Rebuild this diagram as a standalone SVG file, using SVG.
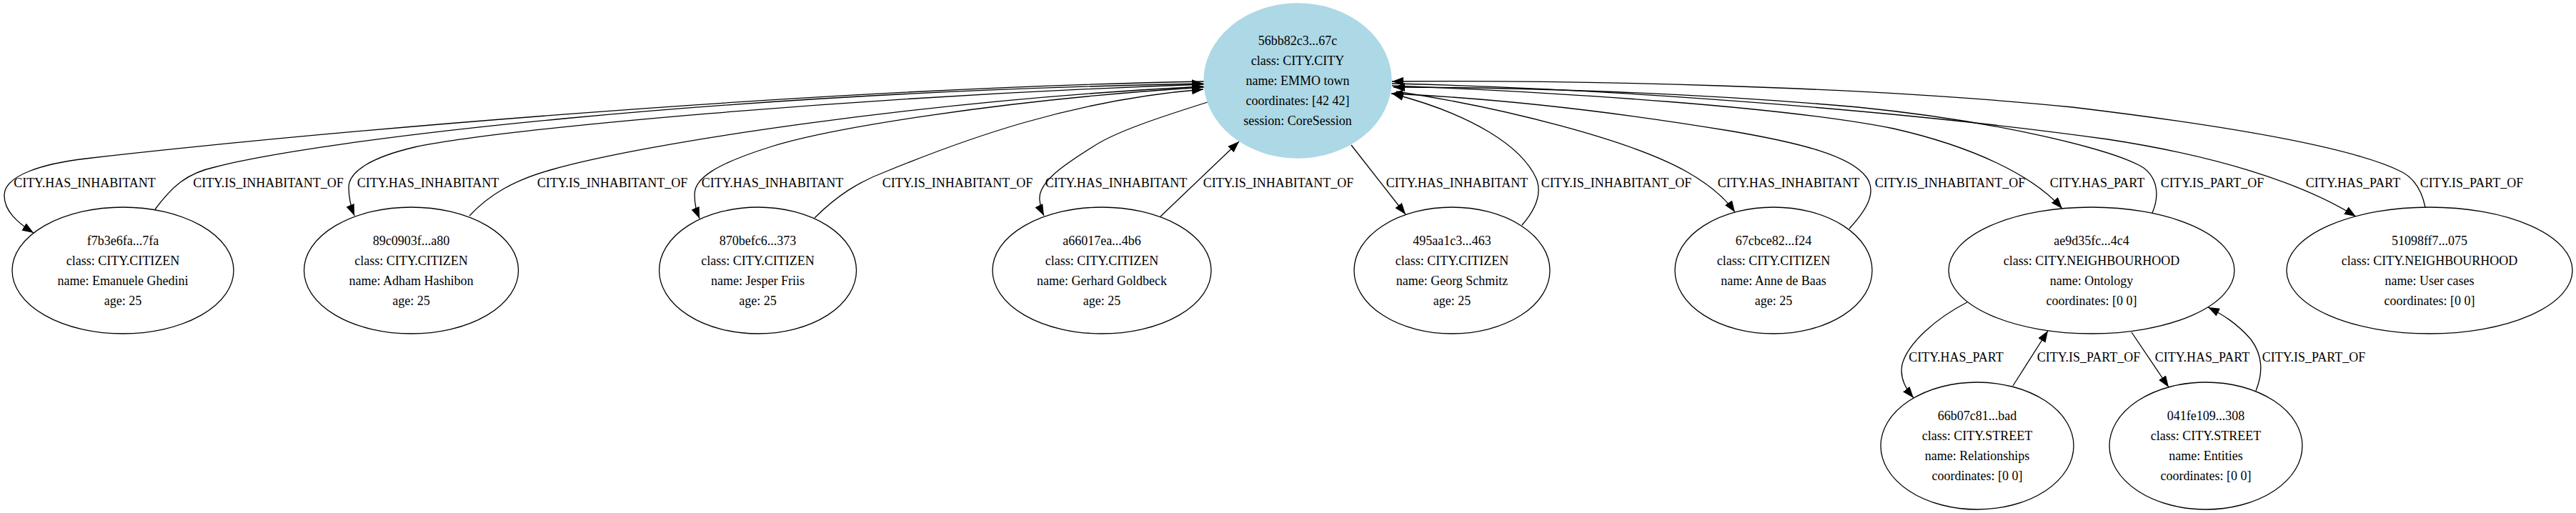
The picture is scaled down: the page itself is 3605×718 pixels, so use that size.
<svg xmlns="http://www.w3.org/2000/svg" width="3605" height="718" viewBox="0 0 3605 718">
<style>
.n{fill:#fff;stroke:#000;stroke-width:1.3}
.c{fill:#ADD8E6;stroke:#ADD8E6;stroke-width:1.3}
text{font-family:"Liberation Serif","Times New Roman",serif;font-size:18px;fill:#000;text-anchor:middle}
.e{fill:none;stroke:#000;stroke-width:1.3;marker-end:url(#ah)}
</style>
<defs>
<marker id="ah" viewBox="0 0 16 12" refX="16" refY="6" markerWidth="16" markerHeight="12" markerUnits="userSpaceOnUse" orient="auto">
<path d="M0,0 L16,6 L0,12 z" fill="#000"/>
</marker>
</defs>
<rect width="3605" height="718" fill="#fff"/>
<g id="connectors">
<path class="e" d="M1685,114 C1100,125 400,190 120,222 C60,229 8,245 6,272 C5,295 25,312 47,326"/>
<path class="e" d="M217,293 C240,262 260,243 300,234 C450,195 1000,130 1684,117"/>
<path class="e" d="M1685,118 C1200,135 700,180 580,206 C520,220 488,240 488,262 C488,280 492,292 496,302"/>
<path class="e" d="M657,302 C685,272 720,252 770,238 C900,200 1300,140 1684,121"/>
<path class="e" d="M1685,122 C1400,140 1160,180 1080,205 C1000,230 972,250 972,272 C972,288 975,296 979,306"/>
<path class="e" d="M1140,305 C1170,275 1200,255 1240,240 C1350,195 1500,140 1684,125"/>
<path class="e" d="M1690,143 C1620,165 1560,185 1530,205 C1490,230 1452,255 1455,280 C1456,290 1458,296 1461,302"/>
<path class="e" d="M1624,303 L1734,198"/>
<path class="e" d="M1891,203 L1967,300"/>
<path class="e" d="M2130,315 C2150,292 2158,270 2150,250 C2130,205 2060,160 1948,131"/>
<path class="e" d="M1954,128 C2100,150 2280,195 2360,240 C2395,260 2415,278 2428,297"/>
<path class="e" d="M2588,320 C2610,296 2628,270 2612,248 C2590,218 2520,200 2420,183 C2250,155 2100,138 1947,131"/>
<path class="e" d="M1948,120 C2200,130 2500,150 2650,180 C2760,205 2845,245 2886,292"/>
<path class="e" d="M3012,298 C3022,275 3020,250 3000,235 C2960,210 2800,170 2600,150 C2350,128 2100,122 1950,122"/>
<path class="e" d="M1948,117 C2300,125 2700,160 2950,195 C3100,218 3220,255 3297,303"/>
<path class="e" d="M3394,290 C3390,270 3380,250 3360,240 C3300,210 3150,180 2900,150 C2600,120 2200,112 1948,114"/>
<path class="e" d="M2753,423 C2710,445 2670,480 2662,510 C2658,530 2668,545 2678,557"/>
<path class="e" d="M2817,540 L2866,463"/>
<path class="e" d="M2983,465 L3035,542"/>
<path class="e" d="M3157,547 C3168,520 3165,495 3150,475 C3130,452 3110,440 3090,430"/>
<text x="118.5" y="262">CITY.HAS_INHABITANT</text>
<text x="375.5" y="262">CITY.IS_INHABITANT_OF</text>
<text x="599" y="262">CITY.HAS_INHABITANT</text>
<text x="857" y="262">CITY.IS_INHABITANT_OF</text>
<text x="1081" y="262">CITY.HAS_INHABITANT</text>
<text x="1340" y="262">CITY.IS_INHABITANT_OF</text>
<text x="1562" y="262">CITY.HAS_INHABITANT</text>
<text x="1789" y="262">CITY.IS_INHABITANT_OF</text>
<text x="2039" y="262">CITY.HAS_INHABITANT</text>
<text x="2262" y="262">CITY.IS_INHABITANT_OF</text>
<text x="2503" y="262">CITY.HAS_INHABITANT</text>
<text x="2729" y="262">CITY.IS_INHABITANT_OF</text>
<text x="2935" y="262">CITY.HAS_PART</text>
<text x="3096" y="262">CITY.IS_PART_OF</text>
<text x="3293" y="262">CITY.HAS_PART</text>
<text x="3459" y="262">CITY.IS_PART_OF</text>
<text x="2737.5" y="506">CITY.HAS_PART</text>
<text x="2923" y="506">CITY.IS_PART_OF</text>
<text x="3082" y="506">CITY.HAS_PART</text>
<text x="3238" y="506">CITY.IS_PART_OF</text>
</g>
<g id="n-56bb82c3">
<ellipse class="c" cx="1816" cy="113" rx="131" ry="108"/>
<text x="1816" y="63">56bb82c3...67c</text>
<text x="1816" y="91">class: CITY.CITY</text>
<text x="1816" y="119">name: EMMO town</text>
<text x="1816" y="147">coordinates: [42 42]</text>
<text x="1816" y="175">session: CoreSession</text>
</g>
<g id="n-f7b3e6fa">
<ellipse class="n" cx="172" cy="378.5" rx="155" ry="88.5"/>
<text x="172" y="342.5">f7b3e6fa...7fa</text>
<text x="172" y="370.5">class: CITY.CITIZEN</text>
<text x="172" y="398.5">name: Emanuele Ghedini</text>
<text x="172" y="426.5">age: 25</text>
</g>
<g id="n-89c0903f">
<ellipse class="n" cx="575.5" cy="378.5" rx="150" ry="88.5"/>
<text x="575.5" y="342.5">89c0903f...a80</text>
<text x="575.5" y="370.5">class: CITY.CITIZEN</text>
<text x="575.5" y="398.5">name: Adham Hashibon</text>
<text x="575.5" y="426.5">age: 25</text>
</g>
<g id="n-870befc6">
<ellipse class="n" cx="1060.5" cy="378.5" rx="138" ry="88.5"/>
<text x="1060.5" y="342.5">870befc6...373</text>
<text x="1060.5" y="370.5">class: CITY.CITIZEN</text>
<text x="1060.5" y="398.5">name: Jesper Friis</text>
<text x="1060.5" y="426.5">age: 25</text>
</g>
<g id="n-a66017ea">
<ellipse class="n" cx="1542" cy="378.5" rx="153" ry="88.5"/>
<text x="1542" y="342.5">a66017ea...4b6</text>
<text x="1542" y="370.5">class: CITY.CITIZEN</text>
<text x="1542" y="398.5">name: Gerhard Goldbeck</text>
<text x="1542" y="426.5">age: 25</text>
</g>
<g id="n-495aa1c3">
<ellipse class="n" cx="2032" cy="378.5" rx="137" ry="88.5"/>
<text x="2032" y="342.5">495aa1c3...463</text>
<text x="2032" y="370.5">class: CITY.CITIZEN</text>
<text x="2032" y="398.5">name: Georg Schmitz</text>
<text x="2032" y="426.5">age: 25</text>
</g>
<g id="n-67cbce82">
<ellipse class="n" cx="2482" cy="378.5" rx="138" ry="88.5"/>
<text x="2482" y="342.5">67cbce82...f24</text>
<text x="2482" y="370.5">class: CITY.CITIZEN</text>
<text x="2482" y="398.5">name: Anne de Baas</text>
<text x="2482" y="426.5">age: 25</text>
</g>
<g id="n-ae9d35fc">
<ellipse class="n" cx="2927" cy="378.5" rx="200" ry="88.5"/>
<text x="2927" y="342.5">ae9d35fc...4c4</text>
<text x="2927" y="370.5">class: CITY.NEIGHBOURHOOD</text>
<text x="2927" y="398.5">name: Ontology</text>
<text x="2927" y="426.5">coordinates: [0 0]</text>
</g>
<g id="n-51098ff7">
<ellipse class="n" cx="3400" cy="378.5" rx="200" ry="88.5"/>
<text x="3400" y="342.5">51098ff7...075</text>
<text x="3400" y="370.5">class: CITY.NEIGHBOURHOOD</text>
<text x="3400" y="398.5">name: User cases</text>
<text x="3400" y="426.5">coordinates: [0 0]</text>
</g>
<g id="n-66b07c81">
<ellipse class="n" cx="2767" cy="624" rx="135" ry="89"/>
<text x="2767" y="588">66b07c81...bad</text>
<text x="2767" y="616">class: CITY.STREET</text>
<text x="2767" y="644">name: Relationships</text>
<text x="2767" y="672">coordinates: [0 0]</text>
</g>
<g id="n-041fe109">
<ellipse class="n" cx="3087" cy="624" rx="135" ry="89"/>
<text x="3087" y="588">041fe109...308</text>
<text x="3087" y="616">class: CITY.STREET</text>
<text x="3087" y="644">name: Entities</text>
<text x="3087" y="672">coordinates: [0 0]</text>
</g>
</svg>
